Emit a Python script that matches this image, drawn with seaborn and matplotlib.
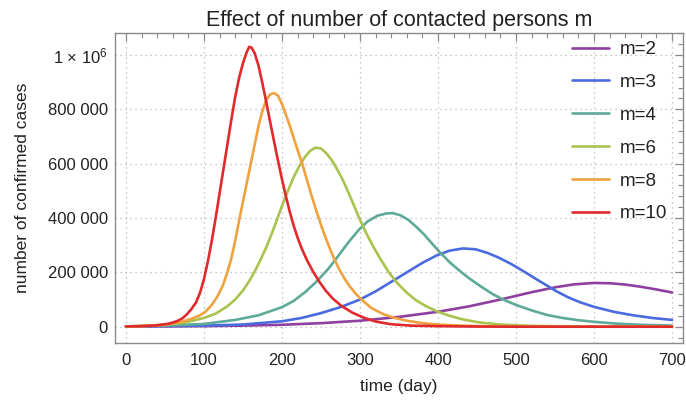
import numpy as np
import pandas as pd
import matplotlib
matplotlib.use("Agg")
import matplotlib.pyplot as plt
import seaborn as sns
from matplotlib.ticker import MultipleLocator

# ---- data (values in millions of cases) ----
labels = ["m=2", "m=3", "m=4", "m=6", "m=8", "m=10"]

days_m2 = [0, 100, 150, 200, 250, 300, 350, 400, 440, 480, 520, 550, 575, 600, 620, 640, 660,
           680, 700]
vals_m2 = [0.0005, 0.002, 0.004, 0.007, 0.013, 0.022, 0.036, 0.055, 0.075, 0.1, 0.127, 0.145,
           0.156, 0.161, 0.16, 0.155, 0.147, 0.137, 0.126]

days_m3 = [0, 100, 150, 200, 225, 250, 275, 300, 320, 340, 360, 380, 398, 415, 432, 448, 463,
           478, 493, 508, 522, 537, 552, 567, 582, 600, 625, 650, 675, 700]
vals_m3 = [0.001, 0.004, 0.008, 0.02, 0.032, 0.05, 0.072, 0.1, 0.13, 0.165, 0.2, 0.235, 0.262,
           0.28, 0.288, 0.285, 0.272, 0.254, 0.232, 0.207, 0.182, 0.156, 0.13, 0.108, 0.09,
           0.073, 0.055, 0.042, 0.032, 0.025]

days_m4 = [0, 50, 100, 140, 170, 200, 215, 230, 245, 260, 272, 285, 298, 310, 322, 334, 342,
           352, 362, 372, 382, 392, 402, 415, 428, 440, 455, 470, 485, 500, 520, 540, 560, 580,
           600, 630, 660, 700]
vals_m4 = [0.001, 0.004, 0.01, 0.025, 0.042, 0.072, 0.095, 0.128, 0.168, 0.215, 0.26, 0.31,
           0.355, 0.388, 0.408, 0.417, 0.418, 0.41, 0.393, 0.368, 0.34, 0.307, 0.275, 0.237,
           0.205, 0.178, 0.148, 0.12, 0.098, 0.08, 0.06, 0.043, 0.032, 0.024, 0.018, 0.011,
           0.007, 0.004]

days_m6 = [0, 25, 50, 75, 100, 115, 130, 140, 150, 158, 165, 172, 180, 187, 194, 201, 208, 215,
           222, 229, 236, 243, 250, 257, 264, 271, 278, 285, 292, 299, 307, 316, 326, 337, 348,
           360, 372, 385, 400, 415, 430, 452, 480, 520, 600, 700]
vals_m6 = [0.001, 0.003, 0.007, 0.015, 0.032, 0.048, 0.075, 0.1, 0.133, 0.168, 0.203, 0.243,
           0.293, 0.343, 0.397, 0.452, 0.503, 0.55, 0.59, 0.623, 0.647, 0.659, 0.656, 0.638,
           0.612, 0.578, 0.54, 0.495, 0.448, 0.4, 0.35, 0.3, 0.25, 0.2, 0.16, 0.125, 0.097,
           0.075, 0.055, 0.04, 0.028, 0.016, 0.008, 0.003, 0.0005, 0.0]

days_m8 = [0, 25, 50, 70, 85, 95, 102, 110, 117, 124, 130, 135, 140, 145, 150, 155, 160, 165,
           170, 175, 180, 185, 190, 195, 200, 205, 210, 215, 220, 226, 232, 238, 244, 250, 256,
           262, 268, 274, 280, 287, 295, 303, 315, 330, 345, 360, 380, 400, 430, 470, 550, 700]
vals_m8 = [0.001, 0.003, 0.008, 0.017, 0.03, 0.042, 0.055, 0.08, 0.11, 0.15, 0.2, 0.25, 0.315,
           0.39, 0.46, 0.53, 0.6, 0.67, 0.74, 0.795, 0.835, 0.855, 0.86, 0.85, 0.82, 0.78, 0.74,
           0.695, 0.65, 0.6, 0.54, 0.482, 0.427, 0.375, 0.327, 0.283, 0.243, 0.208, 0.178,
           0.148, 0.12, 0.097, 0.068, 0.046, 0.032, 0.022, 0.013, 0.008, 0.004, 0.001, 0.0, 0.0]

days_m10 = [0, 20, 40, 55, 65, 72, 78, 84, 90, 95, 100, 105, 110, 115, 120, 125, 130, 135, 140,
            145, 150, 155, 158, 161, 165, 170, 175, 180, 185, 190, 195, 200, 205, 210, 215, 220,
            225, 232, 240, 248, 256, 265, 276, 290, 305, 320, 340, 365, 400, 450, 500, 600, 700]
vals_m10 = [0.001, 0.002, 0.005, 0.011, 0.02, 0.03, 0.045, 0.065, 0.09, 0.125, 0.175, 0.24,
            0.315, 0.4, 0.49, 0.58, 0.67, 0.76, 0.845, 0.915, 0.97, 1.012, 1.03, 1.027, 1.007,
            0.96, 0.895, 0.825, 0.752, 0.68, 0.61, 0.543, 0.48, 0.423, 0.372, 0.328, 0.29,
            0.245, 0.202, 0.165, 0.133, 0.104, 0.077, 0.052, 0.033, 0.019, 0.009, 0.004, 0.002,
            0.0005, 0.0, 0.0, 0.0]

colors = ["#8E3FA0", "#4A6BE0", "#5DAA98", "#A9C34E", "#EFA23E", "#E02A2C"]

x_ticks = [0, 100, 200, 300, 400, 500, 600, 700]
y_ticks = [0, 200000, 400000, 600000, 800000, 1000000]
y_tick_labels = ["0", "200 000", "400 000", "600 000", "800 000", "1 × 10$^{6}$"]

title = "Effect of number of contacted persons m"
xlabel = "time (day)"
ylabel = "number of confirmed cases"

# ---- build long table ----
series = [(days_m2, vals_m2), (days_m3, vals_m3), (days_m4, vals_m4),
          (days_m6, vals_m6), (days_m8, vals_m8), (days_m10, vals_m10)]
frames = []
for lab, (d, v) in zip(labels, series):
    frames.append(pd.DataFrame({"day": d, "cases": np.array(v) * 1e6, "m": lab}))
df = pd.concat(frames, ignore_index=True)

sns.set_theme(style="white")
plt.rcParams["font.family"] = ["Liberation Sans", "DejaVu Sans"]
plt.rcParams["mathtext.fontset"] = "custom"
plt.rcParams["mathtext.rm"] = "Liberation Sans"
plt.rcParams["mathtext.it"] = "Liberation Sans:italic"
plt.rcParams["mathtext.bf"] = "Liberation Sans:bold"

fig = plt.figure(figsize=(6.86, 4.0), dpi=100)
ax = fig.add_axes([115 / 686, 57 / 400, (683 - 115) / 686, (343 - 33) / 400])

sns.lineplot(data=df, x="day", y="cases", hue="m", hue_order=labels,
             palette=colors, estimator=None, sort=True, linewidth=1.9, ax=ax)

ax.set_xlim(-14, 714)
ax.set_ylim(-60000, 1081000)

ax.set_xticks(x_ticks)
ax.set_xticklabels([str(t) for t in x_ticks])
ax.set_yticks(y_ticks)
ax.set_yticklabels(y_tick_labels)
ax.xaxis.set_minor_locator(MultipleLocator(20))
ax.yaxis.set_minor_locator(MultipleLocator(40000))

frame_col = "#8a8a8a"
for sp in ax.spines.values():
    sp.set_color(frame_col)
    sp.set_linewidth(1.0)
ax.tick_params(which="both", direction="in", top=True, right=True, color=frame_col,
               labelcolor="#222222", labelsize=12)
ax.tick_params(which="major", length=6, width=0.9)
ax.tick_params(which="minor", length=3.5, width=0.8)
ax.tick_params(axis="x", pad=7)
ax.tick_params(axis="y", pad=5)

ax.grid(True, which="major", color="#b5b5b5", linestyle=(0, (1, 3)), linewidth=0.9)

ax.set_title(title, fontsize=15.5, color="#222222", pad=5)
ax.set_xlabel(xlabel, fontsize=12.5, color="#222222", labelpad=8)
ax.set_ylabel(ylabel, fontsize=12.5, color="#222222", labelpad=13)

leg = ax.legend(loc="upper left", bbox_to_anchor=(572 / 686, 1 - 41 / 400),
                bbox_transform=fig.transFigure, frameon=False, fontsize=13.5,
                handlelength=1.95, handletextpad=0.6, labelspacing=0.84,
                borderpad=0, borderaxespad=0)
for t in leg.get_texts():
    t.set_color("#222222")
for h in leg.get_lines():
    h.set_linewidth(1.9)

fig.savefig("out.png", dpi=100)
